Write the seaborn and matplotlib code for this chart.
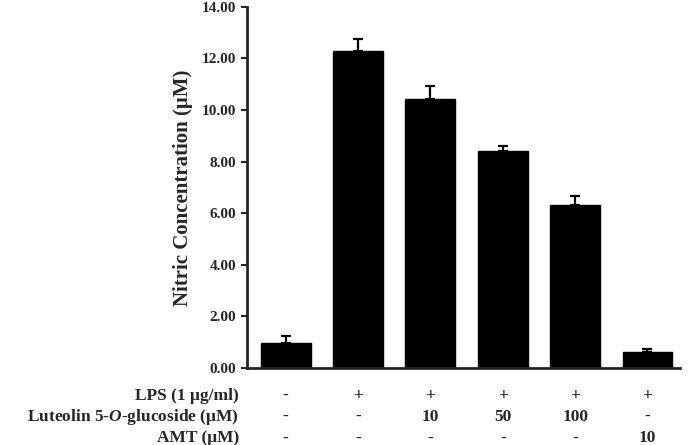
import numpy as np
import matplotlib
matplotlib.use("Agg")
import matplotlib.pyplot as plt
import matplotlib.transforms as mtransforms
from matplotlib.ticker import FormatStrFormatter
import seaborn as sns

# Datos
grupos = ["G1", "G2", "G3", "G4", "G5", "G6"]
nitrito = [0.97, 12.29, 10.43, 8.39, 6.32, 0.63]
error = [0.26, 0.46, 0.49, 0.20, 0.33, 0.12]

fila_nombres = ["LPS (1 μg/ml)", "Luteolin 5-$\\mathit{O}$-glucoside (μM)", "AMT (μM)"]
fila_lps = ["-", "+", "+", "+", "+", "+"]
fila_luteolin = ["-", "-", "10", "50", "100", "-"]
fila_amt = ["-", "-", "-", "-", "-", "10"]

sns.set_style("ticks")
plt.rcParams["font.family"] = ["Liberation Serif", "DejaVu Serif"]
plt.rcParams["font.weight"] = "bold"
plt.rcParams["mathtext.fontset"] = "custom"
plt.rcParams["mathtext.it"] = "Liberation Serif:italic:bold"
plt.rcParams["mathtext.rm"] = "Liberation Serif:bold"

fig = plt.figure(figsize=(6.89, 4.45), dpi=100)
ax = fig.add_axes([0.3585, 0.173, 0.6285, 0.812])

sns.barplot(x=grupos, y=nitrito, color="black", width=0.69,
            edgecolor="black", saturation=1, ax=ax)

x = np.arange(len(grupos))
ax.errorbar(x, nitrito, yerr=[np.zeros(len(error)), error], fmt="none",
            ecolor="black", elinewidth=1.6, capsize=3.5, capthick=1.6)

ax.set_ylim(0, 14)
ax.set_xlim(-0.535, 5.45)
ax.set_yticks(np.arange(0, 14.1, 2))
ax.yaxis.set_major_formatter(FormatStrFormatter("%.2f"))
ax.tick_params(axis="y", direction="out", length=4, width=1.5, labelsize=11, pad=4)
ax.tick_params(axis="x", length=0, labelbottom=False)
for lbl in ax.get_yticklabels():
    lbl.set_fontweight("bold")

sns.despine(ax=ax)
ax.spines["left"].set_linewidth(2)
ax.spines["bottom"].set_linewidth(2)

ax.set_ylabel("Nitric Concentration (μM)", fontsize=15, fontweight="bold", labelpad=6)

# Tabla de tratamientos debajo del eje
trans = mtransforms.blended_transform_factory(ax.transData, ax.transAxes)
filas_y = [-0.077, -0.136, -0.195]
for fy, nombre, valores in zip(filas_y, fila_nombres,
                               [fila_lps, fila_luteolin, fila_amt]):
    ax.text(-0.018, fy, nombre, transform=ax.transAxes, ha="right", va="center",
            fontsize=12.5, fontweight="bold", clip_on=False)
    for xi, v in zip(x, valores):
        ax.text(xi, fy, v, transform=trans, ha="center", va="center",
                fontsize=12.5, fontweight="bold", clip_on=False)

fig.savefig("out.png", dpi=100)
